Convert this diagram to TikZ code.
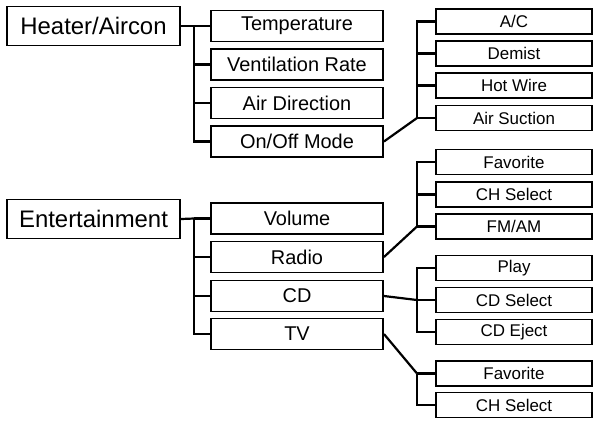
\documentclass[tikz,border=0pt]{standalone}
\usepackage{fontspec}
\setmainfont{Liberation Sans}
\usepackage{tikz}
\usetikzlibrary{calc}

\begin{document}
\begin{tikzpicture}[x=1bp,y=-1bp,
    rootbox/.style={draw, line width=1.9bp, inner sep=0pt, fill=white,
      minimum width=173bp, minimum height=39bp, font=\fontsize{24}{28}\selectfont},
    itembox/.style={draw, line width=1.9bp, inner sep=0pt, fill=white,
      minimum width=172bp, minimum height=31bp, font=\fontsize{20}{24}\selectfont},
    subbox/.style={draw, line width=1.9bp, inner sep=0pt, fill=white,
      minimum width=156bp, minimum height=25bp, font=\fontsize{17}{20}\selectfont},
    link/.style={line width=2.2bp}]
  \useasboundingbox (0,0) rectangle (595,421);

  % top menus
  \node[rootbox] (heat) at (93.5,26) {Heater/Aircon};
  \node[rootbox] (ent) at (93.5,219) {Entertainment};

  % second level
  \node[itembox] (temp) at (297,26) {Temperature};
  \node[itembox] (vent) at (297,64.5) {Ventilation Rate};
  \node[itembox] (dir) at (297,103) {Air Direction};
  \node[itembox] (mode) at (297,141.5) {On/Off Mode};
  \node[itembox] (vol) at (297,218.5) {Volume};
  \node[itembox] (radio) at (297,257) {Radio};
  \node[itembox] (cd) at (297,296) {CD};
  \node[itembox] (tv) at (297,334) {TV};

  % third level
  \node[subbox] (ac) at (514,21.5) {A/C};
  \node[subbox] (demist) at (514,53.5) {Demist};
  \node[subbox] (wire) at (514,85.5) {Hot Wire};
  \node[subbox] (suction) at (514,118) {Air Suction};
  \node[subbox] (rfav) at (514,162) {Favorite};
  \node[subbox] (rch) at (514,194.5) {CH Select};
  \node[subbox] (fmam) at (514,226.5) {FM/AM};
  \node[subbox] (play) at (514,268) {Play};
  \node[subbox] (cdsel) at (514,300) {CD Select};
  \node[subbox] (eject) at (514,332) {CD Eject};
  \node[subbox] (tfav) at (514,373.5) {Favorite};
  \node[subbox] (tch) at (514,405) {CH Select};

  % junctions
  \coordinate (jheat) at (194,26);
  \coordinate (jent) at (194,218.5);
  \coordinate (jmode) at (417,118);
  \coordinate (jradio) at (417,226.5);
  \coordinate (jcd) at (417,300);
  \coordinate (jtv) at (417,373.5);

  \draw[link] (heat.east) -- (jheat);
  \draw[link] (jheat) |- (temp.west);
  \draw[link] (jheat) |- (vent.west);
  \draw[link] (jheat) |- (dir.west);
  \draw[link] (jheat) |- (mode.west);

  \draw[link] (ent.east) -- (jent);
  \draw[link] (jent) |- (vol.west);
  \draw[link] (jent) |- (radio.west);
  \draw[link] (jent) |- (cd.west);
  \draw[link] (jent) |- (tv.west);

  \draw[link] (mode.east) -- (jmode);
  \draw[link] (jmode) |- (ac.west);
  \draw[link] (jmode) |- (demist.west);
  \draw[link] (jmode) |- (wire.west);
  \draw[link] (jmode) |- (suction.west);

  \draw[link] (radio.east) -- (jradio);
  \draw[link] (jradio) |- (rfav.west);
  \draw[link] (jradio) |- (rch.west);
  \draw[link] (jradio) |- (fmam.west);

  \draw[link] (cd.east) -- (jcd);
  \draw[link] (jcd) |- (play.west);
  \draw[link] (jcd) |- (cdsel.west);
  \draw[link] (jcd) |- (eject.west);

  \draw[link] (tv.east) -- (jtv);
  \draw[link] (jtv) |- (tfav.west);
  \draw[link] (jtv) |- (tch.west);
\end{tikzpicture}
\end{document}
